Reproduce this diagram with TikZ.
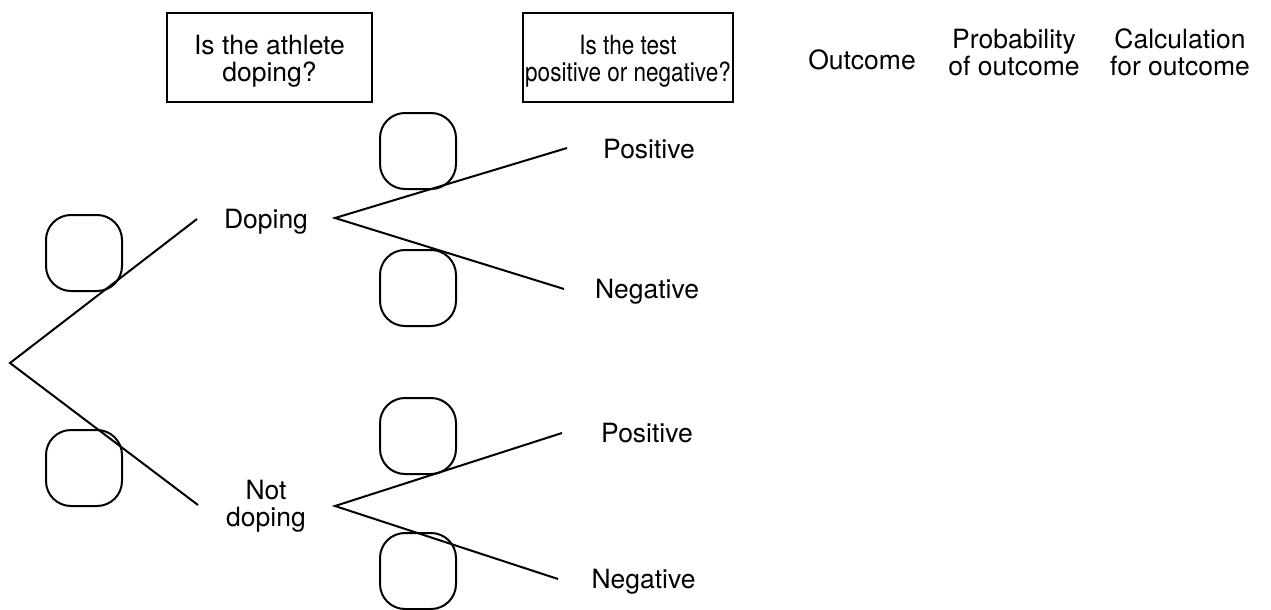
\documentclass[tikz,border=0pt]{standalone}
\usepackage{graphicx}
\usepackage{fontspec}
\setmainfont{TeX Gyre Heros}
\begin{document}
\begin{tikzpicture}[x=1pt,y=-1pt,
  every node/.style={font=\fontsize{26.5}{27}\selectfont},
  lbl/.style={inner sep=0pt, anchor=base, align=center},
  hdrbox/.style={draw, line width=1.3pt, minimum width=#1, minimum height=89pt, inner sep=0pt},
  pbox/.style={draw, line width=2pt, rounded corners=25pt, minimum width=76pt, minimum height=76pt, inner sep=0pt},
  branch/.style={line width=2pt}]
\useasboundingbox (0,0) rectangle (1271,610);

% header
\node[hdrbox=205pt] (q1) at (269.5,57.5) {};
\node[lbl] (q1t) at (269.5,81.5) {Is the athlete\\doping?};
\node[hdrbox=210pt] (q2) at (628,57.5) {};
\node[lbl] (q2t) at (628,81.5) {\scalebox{0.85}[1]{Is the test}\\\scalebox{0.85}[1]{positive or negative?}};
\node[lbl] (outc) at (862,70) {Outcome};
\node[lbl] (prob) at (1014,75) {Probability\\of outcome};
\node[lbl] (calc) at (1180,75) {Calculation\\for outcome};

% probability boxes
\node[pbox] (p1) at (84,253) {};
\node[pbox] (p2) at (84,468) {};
\node[pbox] (p3) at (418,151) {};
\node[pbox] (p4) at (418,288) {};
\node[pbox] (p5) at (418,436) {};
\node[pbox] (p6) at (418,571) {};

% labels
\node[lbl] (dop) at (266,228) {Doping};
\node[lbl] (ndop) at (266,526) {Not\\doping};
\node[lbl] (pos1) at (649,158) {Positive};
\node[lbl] (neg1) at (647,298) {Negative};
\node[lbl] (pos2) at (647,442) {Positive};
\node[lbl] (neg2) at (643.5,588) {Negative};

% branch points
\coordinate (root) at (10,363);
\coordinate (rA) at (197,219);
\coordinate (rB) at (198,505);
\coordinate (fA) at (335,218);
\coordinate (fA1) at (567,148);
\coordinate (fA2) at (564,289);
\coordinate (fB) at (335,506);
\coordinate (fB1) at (562,433);
\coordinate (fB2) at (558,579);

\draw[branch] (rA) -- (root) -- (rB);
\draw[branch] (fA1) -- (fA) -- (fA2);
\draw[branch] (fB1) -- (fB) -- (fB2);
\end{tikzpicture}
\end{document}
